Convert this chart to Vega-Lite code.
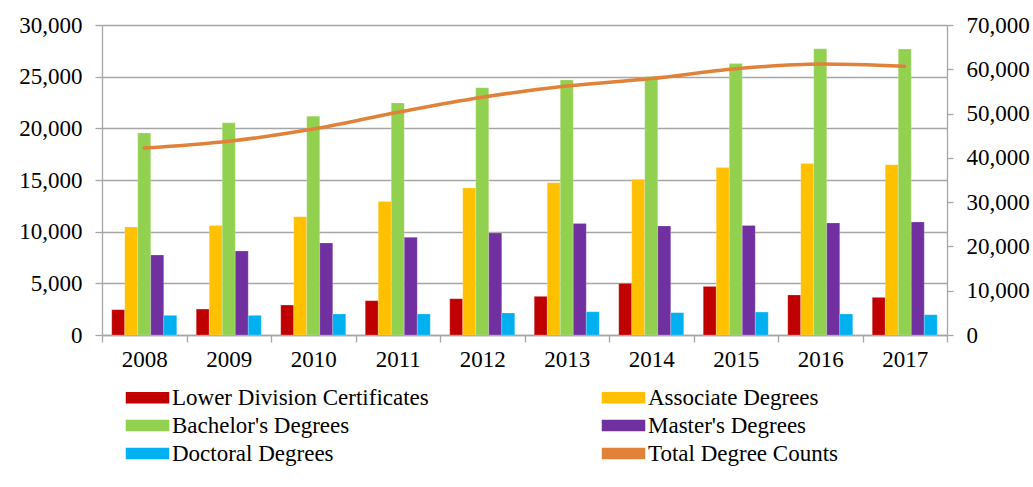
{
  "$schema": "https://vega.github.io/schema/vega-lite/v6.json",
  "width": 845,
  "height": 310,
  "autosize": "none",
  "padding": {"left": 102, "top": 25, "right": 86, "bottom": 152},
  "background": "white",
  "config": {
    "view": {"stroke": null},
    "font": "Liberation Serif, Times New Roman, serif",
    "axis": {
      "labelFont": "Liberation Serif, Times New Roman, serif",
      "labelFontSize": 23,
      "labelColor": "#000000",
      "domainColor": "#a6a6a6",
      "domainWidth": 1.3,
      "tickColor": "#a6a6a6",
      "tickWidth": 1.3,
      "gridColor": "#a6a6a6",
      "gridWidth": 1.3,
      "title": null
    }
  },
  "datasets": {
    "bars": [
      {"year": "2008", "type": "Lower Division Certificates", "value": 2450},
      {"year": "2008", "type": "Associate Degrees", "value": 10450},
      {"year": "2008", "type": "Bachelor's Degrees", "value": 19550},
      {"year": "2008", "type": "Master's Degrees", "value": 7740},
      {"year": "2008", "type": "Doctoral Degrees", "value": 1900},
      {"year": "2009", "type": "Lower Division Certificates", "value": 2510},
      {"year": "2009", "type": "Associate Degrees", "value": 10600},
      {"year": "2009", "type": "Bachelor's Degrees", "value": 20530},
      {"year": "2009", "type": "Master's Degrees", "value": 8130},
      {"year": "2009", "type": "Doctoral Degrees", "value": 1900},
      {"year": "2010", "type": "Lower Division Certificates", "value": 2900},
      {"year": "2010", "type": "Associate Degrees", "value": 11450},
      {"year": "2010", "type": "Bachelor's Degrees", "value": 21180},
      {"year": "2010", "type": "Master's Degrees", "value": 8900},
      {"year": "2010", "type": "Doctoral Degrees", "value": 2030},
      {"year": "2011", "type": "Lower Division Certificates", "value": 3320},
      {"year": "2011", "type": "Associate Degrees", "value": 12930},
      {"year": "2011", "type": "Bachelor's Degrees", "value": 22450},
      {"year": "2011", "type": "Master's Degrees", "value": 9450},
      {"year": "2011", "type": "Doctoral Degrees", "value": 2030},
      {"year": "2012", "type": "Lower Division Certificates", "value": 3510},
      {"year": "2012", "type": "Associate Degrees", "value": 14230},
      {"year": "2012", "type": "Bachelor's Degrees", "value": 23930},
      {"year": "2012", "type": "Master's Degrees", "value": 9870},
      {"year": "2012", "type": "Doctoral Degrees", "value": 2130},
      {"year": "2013", "type": "Lower Division Certificates", "value": 3740},
      {"year": "2013", "type": "Associate Degrees", "value": 14740},
      {"year": "2013", "type": "Bachelor's Degrees", "value": 24680},
      {"year": "2013", "type": "Master's Degrees", "value": 10800},
      {"year": "2013", "type": "Doctoral Degrees", "value": 2250},
      {"year": "2014", "type": "Lower Division Certificates", "value": 4990},
      {"year": "2014", "type": "Associate Degrees", "value": 15060},
      {"year": "2014", "type": "Bachelor's Degrees", "value": 25020},
      {"year": "2014", "type": "Master's Degrees", "value": 10550},
      {"year": "2014", "type": "Doctoral Degrees", "value": 2160},
      {"year": "2015", "type": "Lower Division Certificates", "value": 4700},
      {"year": "2015", "type": "Associate Degrees", "value": 16220},
      {"year": "2015", "type": "Bachelor's Degrees", "value": 26280},
      {"year": "2015", "type": "Master's Degrees", "value": 10600},
      {"year": "2015", "type": "Doctoral Degrees", "value": 2220},
      {"year": "2016", "type": "Lower Division Certificates", "value": 3870},
      {"year": "2016", "type": "Associate Degrees", "value": 16600},
      {"year": "2016", "type": "Bachelor's Degrees", "value": 27700},
      {"year": "2016", "type": "Master's Degrees", "value": 10840},
      {"year": "2016", "type": "Doctoral Degrees", "value": 2030},
      {"year": "2017", "type": "Lower Division Certificates", "value": 3640},
      {"year": "2017", "type": "Associate Degrees", "value": 16480},
      {"year": "2017", "type": "Bachelor's Degrees", "value": 27670},
      {"year": "2017", "type": "Master's Degrees", "value": 10930},
      {"year": "2017", "type": "Doctoral Degrees", "value": 1960}
    ],
    "totals": [
      {"year": "2008", "total": 42200},
      {"year": "2009", "total": 43750},
      {"year": "2010", "total": 46500},
      {"year": "2011", "total": 50300},
      {"year": "2012", "total": 53700},
      {"year": "2013", "total": 56200},
      {"year": "2014", "total": 57900},
      {"year": "2015", "total": 60100},
      {"year": "2016", "total": 61200},
      {"year": "2017", "total": 60700}
    ]
  },
  "layer": [
    {
      "data": {"name": "bars"},
      "mark": {"type": "bar", "stroke": "#ffffff", "strokeOpacity": 0.35, "strokeWidth": 0.6},
      "encoding": {
        "x": {
          "field": "year",
          "type": "nominal",
          "scale": {"paddingInner": 0, "paddingOuter": 0},
          "axis": {
            "labelAngle": 0,
            "tickBand": "extent",
            "tickSize": 7,
            "labelPadding": 6
          }
        },
        "xOffset": {
          "field": "type",
          "type": "nominal",
          "sort": ["Lower Division Certificates", "Associate Degrees", "Bachelor's Degrees", "Master's Degrees", "Doctoral Degrees"],
          "scale": {"paddingInner": 0, "paddingOuter": 0.75}
        },
        "y": {
          "field": "value",
          "type": "quantitative",
          "scale": {"domain": [0, 30000], "nice": false},
          "axis": {
            "values": [0, 5000, 10000, 15000, 20000, 25000, 30000],
            "format": ",d",
            "grid": true,
            "tickSize": 7,
            "labelPadding": 13
          }
        },
        "color": {
          "field": "type",
          "type": "nominal",
          "scale": {
            "domain": ["Lower Division Certificates", "Associate Degrees", "Bachelor's Degrees", "Master's Degrees", "Doctoral Degrees", "Total Degree Counts"],
            "range": ["#C00000", "#FFC000", "#92D050", "#7030A0", "#00B0F0", "#E0823A"]
          },
          "legend": {
            "orient": "none",
            "legendX": 34,
            "legendY": 361,
            "columns": 2,
            "direction": "horizontal",
            "title": null,
            "labelFont": "Liberation Serif, Times New Roman, serif",
            "labelFontSize": 23,
            "labelColor": "#000000",
            "labelLimit": 400,
            "labelOffset": 13,
            "columnPadding": 170,
            "rowPadding": 4,
            "symbolSize": 441,
            "symbolType": "M-2,-0.48H2V0.48H-2Z",
            "encode": {
              "symbols": {
                "update": {
                  "shape": {"signal": "datum.value === 'Total Degree Counts' ? 'M-1.94,0H1.94' : 'M-2,-0.48H2V0.48H-2Z'"},
                  "fill": {"signal": "datum.value === 'Total Degree Counts' ? 'transparent' : scale('color', datum.value)"},
                  "stroke": {"signal": "datum.value === 'Total Degree Counts' ? '#E0823A' : 'transparent'"},
                  "strokeWidth": {"value": 3.5},
                  "strokeCap": {"value": "round"},
                  "opacity": {"value": 1}
                }
              }
            }
          }
        }
      }
    },
    {
      "data": {"name": "totals"},
      "mark": {"type": "line", "interpolate": "monotone", "strokeWidth": 3.5, "strokeCap": "round"},
      "encoding": {
        "x": {"field": "year", "type": "nominal"},
        "y": {
          "field": "total",
          "type": "quantitative",
          "scale": {"domain": [0, 70000], "nice": false},
          "axis": {
            "orient": "right",
            "values": [0, 10000, 20000, 30000, 40000, 50000, 60000, 70000],
            "format": ",d",
            "grid": false,
            "tickSize": 6,
            "labelPadding": 13
          }
        },
        "color": {"datum": "Total Degree Counts"}
      }
    }
  ],
  "resolve": {"scale": {"y": "independent"}}
}
